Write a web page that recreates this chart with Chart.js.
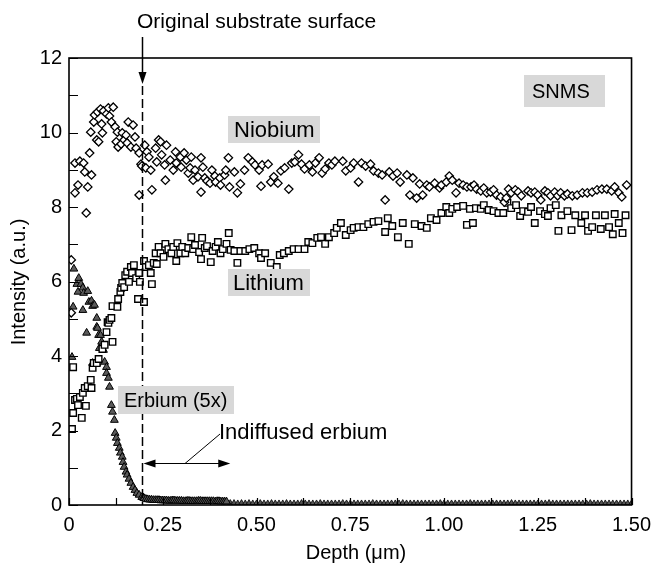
<!DOCTYPE html>
<html>
<head>
<meta charset="utf-8">
<script src="https://cdn.jsdelivr.net/npm/chart.js@4.4.0/dist/chart.umd.min.js"></script>
<style>
  html, body { margin: 0; padding: 0; background: #fff; }
  canvas { display: block; }
</style>
</head>
<body>
<canvas id="chart" width="659" height="563"></canvas>
<script>
const FONT = '"Liberation Sans", Arial, Helvetica, sans-serif';

// tick values
const xTickValues = [0, 0.125, 0.25, 0.375, 0.5, 0.625, 0.75, 0.875, 1, 1.125, 1.25, 1.375, 1.5];
const yTickValues = [0, 1, 2, 3, 4, 5, 6, 7, 8, 9, 10, 11, 12];

// depth of the original substrate surface and end of the indiffused region (um)
const surfaceDepth = 0.195;
const indiffusedEnd = 0.43;

// Niobium [depth, intensity]
const niobium = [
  [0.006,6.58],[0.006,5.16],[0.016,8.38],[0.016,9.18],[0.024,8.59],[0.029,9.23],[0.039,9.18],[0.042,8.94],
  [0.046,7.84],[0.050,8.54],[0.055,9.45],[0.058,10.01],[0.060,8.86],[0.066,10.28],[0.068,10.47],[0.074,9.80],
  [0.076,10.55],[0.079,9.75],[0.084,10.63],[0.087,10.23],[0.089,9.99],[0.092,10.58],[0.100,10.50],[0.105,10.66],
  [0.108,10.44],[0.113,10.28],[0.118,10.68],[0.123,10.15],[0.126,9.75],[0.129,10.01],[0.131,9.61],[0.139,9.69],
  [0.142,9.99],[0.147,9.80],[0.152,9.93],[0.155,9.72],[0.158,10.28],[0.165,9.61],[0.171,10.20],[0.176,9.88],
  [0.179,9.58],[0.187,9.45],[0.187,8.32],[0.192,9.15],[0.194,9.10],[0.202,9.66],[0.205,9.05],[0.208,9.48],
  [0.213,9.34],[0.218,8.99],[0.221,8.46],[0.231,9.58],[0.234,9.21],[0.239,9.80],[0.244,9.75],[0.247,9.40],
  [0.255,9.13],[0.257,8.72],[0.260,9.66],[0.270,9.26],[0.278,8.99],[0.284,9.48],[0.286,9.18],[0.297,9.34],
  [0.299,9.07],[0.307,9.45],[0.313,9.26],[0.318,8.91],[0.323,9.05],[0.326,9.34],[0.331,8.72],[0.336,8.99],
  [0.344,8.81],[0.352,9.32],[0.352,8.40],[0.357,9.07],[0.362,8.78],[0.368,8.70],[0.376,8.64],[0.381,8.99],
  [0.389,8.83],[0.391,8.67],[0.402,8.78],[0.404,8.59],[0.415,8.86],[0.418,8.99],[0.425,9.32],[0.428,8.54],
  [0.441,8.94],[0.449,8.38],[0.457,8.62],[0.468,8.99],[0.478,9.32],[0.489,9.21],[0.496,9.13],[0.507,8.99],
  [0.512,8.56],[0.515,9.13],[0.531,9.15],[0.538,8.67],[0.546,8.81],[0.557,8.64],[0.565,8.97],[0.575,9.05],
  [0.586,8.48],[0.594,9.18],[0.602,9.21],[0.612,9.40],[0.620,9.15],[0.628,9.02],[0.641,9.13],[0.649,8.94],
  [0.657,9.18],[0.667,9.32],[0.675,8.91],[0.683,9.02],[0.693,9.18],[0.701,9.13],[0.709,9.23],[0.730,9.23],
  [0.738,8.97],[0.751,9.05],[0.759,9.18],[0.772,8.67],[0.780,9.18],[0.791,9.10],[0.804,9.15],[0.812,8.97],
  [0.825,8.91],[0.835,8.86],[0.843,8.19],[0.854,8.94],[0.864,8.83],[0.875,8.91],[0.883,8.67],[0.901,8.86],
  [0.909,8.32],[0.917,8.78],[0.927,8.24],[0.935,8.62],[0.943,8.32],[0.954,8.59],[0.961,8.54],[0.975,8.64],
  [0.988,8.51],[0.993,8.59],[1.006,8.67],[1.014,8.83],[1.022,8.72],[1.032,8.38],[1.040,8.64],[1.051,8.59],
  [1.061,8.54],[1.072,8.54],[1.080,8.59],[1.087,8.48],[1.098,8.43],[1.106,8.51],[1.114,8.38],[1.124,8.40],
  [1.132,8.46],[1.140,8.32],[1.151,8.27],[1.161,8.13],[1.166,8.24],[1.172,8.48],[1.179,8.38],[1.190,8.46],
  [1.198,8.40],[1.206,8.30],[1.224,8.43],[1.232,8.38],[1.242,8.40],[1.250,8.32],[1.258,8.19],[1.269,8.43],
  [1.277,8.38],[1.284,8.30],[1.295,8.40],[1.303,8.30],[1.311,8.38],[1.321,8.30],[1.329,8.35],[1.342,8.30],
  [1.355,8.32],[1.369,8.38],[1.382,8.38],[1.395,8.40],[1.408,8.46],[1.421,8.48],[1.434,8.48],[1.447,8.43],
  [1.455,8.54],[1.466,8.38],[1.474,8.27],[1.487,8.59]
];

// Lithium [depth, intensity]
const lithium = [
  [0.008,2.04],[0.011,3.70],[0.011,2.47],[0.016,2.82],[0.021,2.85],[0.024,2.68],[0.029,2.90],[0.034,2.34],
  [0.037,3.01],[0.042,3.14],[0.045,2.66],[0.050,3.19],[0.058,3.36],[0.060,3.14],[0.063,3.68],[0.066,3.81],
  [0.074,3.81],[0.079,3.92],[0.089,4.19],[0.095,4.30],[0.100,4.64],[0.103,4.91],[0.105,4.89],[0.108,4.97],
  [0.113,5.02],[0.116,4.38],[0.116,5.34],[0.129,5.32],[0.131,5.53],[0.137,5.72],[0.139,5.83],[0.142,5.96],
  [0.147,5.85],[0.150,6.17],[0.155,6.26],[0.160,5.99],[0.165,6.39],[0.168,6.23],[0.173,6.44],[0.179,6.09],
  [0.184,5.53],[0.187,6.23],[0.189,5.99],[0.200,5.45],[0.200,6.55],[0.205,6.39],[0.213,6.44],[0.218,6.23],
  [0.221,5.93],[0.226,6.50],[0.231,6.76],[0.234,6.47],[0.239,6.93],[0.244,6.76],[0.252,6.66],[0.257,7.01],
  [0.265,6.87],[0.273,6.76],[0.278,6.93],[0.286,6.55],[0.289,7.03],[0.297,6.76],[0.302,6.93],[0.310,6.76],
  [0.318,6.90],[0.326,7.19],[0.331,6.87],[0.336,6.98],[0.347,6.79],[0.352,6.60],[0.355,7.17],[0.362,6.90],
  [0.368,6.95],[0.378,6.52],[0.383,6.82],[0.391,6.93],[0.397,7.06],[0.404,6.76],[0.410,6.87],[0.420,7.01],
  [0.426,7.30],[0.431,6.85],[0.441,6.82],[0.449,6.50],[0.457,6.82],[0.470,6.82],[0.481,6.87],[0.494,6.90],
  [0.507,6.76],[0.512,6.63],[0.523,6.76],[0.538,6.50],[0.554,6.39],[0.562,6.71],[0.573,6.76],[0.586,6.82],
  [0.599,6.87],[0.612,6.87],[0.628,6.87],[0.638,7.06],[0.649,7.03],[0.662,7.17],[0.672,7.19],[0.683,7.01],
  [0.693,7.19],[0.707,7.30],[0.714,7.44],[0.725,7.57],[0.738,7.25],[0.751,7.38],[0.759,7.44],[0.772,7.46],
  [0.785,7.46],[0.798,7.54],[0.812,7.60],[0.825,7.62],[0.843,7.33],[0.850,7.70],[0.862,7.49],[0.877,7.19],
  [0.890,7.57],[0.906,7.01],[0.922,7.54],[0.940,7.49],[0.954,7.44],[0.965,7.70],[0.980,7.65],[0.993,7.84],
  [1.006,8.00],[1.014,7.84],[1.022,7.95],[1.035,8.00],[1.051,8.03],[1.061,7.52],[1.069,7.95],[1.077,7.57],
  [1.085,7.97],[1.098,7.95],[1.106,8.05],[1.119,7.92],[1.132,7.89],[1.145,7.84],[1.158,7.84],[1.169,8.11],
  [1.179,7.97],[1.192,8.05],[1.203,7.76],[1.211,7.89],[1.224,7.87],[1.232,8.00],[1.242,7.57],[1.256,7.89],
  [1.269,7.81],[1.277,7.76],[1.284,7.97],[1.298,8.05],[1.305,7.36],[1.313,7.78],[1.329,7.89],[1.340,7.38],
  [1.350,7.78],[1.366,7.57],[1.376,7.78],[1.384,7.36],[1.395,7.46],[1.405,7.78],[1.418,7.41],[1.429,7.78],
  [1.440,7.46],[1.450,7.27],[1.455,7.81],[1.466,7.57],[1.476,7.30],[1.484,7.78]
];

// Erbium (5x) near the surface [depth, intensity]
const erbium = [
  [0.008,3.97],[0.011,5.32],[0.013,6.34],[0.021,5.93],[0.024,5.72],[0.026,6.09],[0.032,5.93],[0.037,5.83],
  [0.037,5.23],[0.039,5.69],[0.047,4.62],[0.050,5.74],[0.053,5.45],[0.060,5.48],[0.063,5.34],[0.063,3.81],
  [0.068,5.37],[0.074,5.02],[0.074,4.78],[0.074,3.81],[0.076,4.75],[0.079,4.56],[0.081,4.21],[0.084,4.56],
  [0.087,4.38],[0.092,4.16],[0.095,3.84],[0.100,3.70],[0.100,3.54],[0.105,3.41],[0.108,3.17],[0.113,2.68],
  [0.116,2.50],[0.121,2.28],[0.123,1.93],[0.126,1.80],[0.129,1.66],[0.134,1.53],[0.137,1.40],[0.142,1.29],
  [0.144,1.15],[0.147,1.02],[0.152,0.89],[0.155,0.81],[0.160,0.70],[0.165,0.59],[0.171,0.48],[0.176,0.40],
  [0.181,0.32],[0.187,0.27],[0.194,0.21],[0.198,0.20]
];

// Erbium indiffused plateau
const erbiumPlateauX = [0.20,0.205,0.21,0.215,0.22,0.225,0.23,0.235,0.24,0.245,0.25,0.255,0.26,0.265,0.27,0.275,
  0.28,0.285,0.29,0.295,0.30,0.305,0.31,0.315,0.32,0.325,0.33,0.335,0.34,0.345,0.35,0.355,0.36,0.365,0.37,0.375,
  0.38,0.385,0.39,0.395,0.40,0.405,0.41,0.415,0.42];
const erbiumPlateauY = [0.18,0.16,0.15,0.14,0.14,0.13,0.13,0.13,0.13,0.12,0.12,0.12,0.12,0.11,0.11,0.12,
  0.12,0.11,0.11,0.11,0.11,0.10,0.10,0.11,0.11,0.10,0.10,0.10,0.10,0.11,0.11,0.10,0.10,0.10,0.10,0.10,
  0.10,0.10,0.09,0.10,0.10,0.09,0.09,0.09,0.09];

// Erbium background beyond the indiffused region
const erbiumTailX = [0.43,0.44,0.45,0.46,0.47,0.48,0.49,0.50,0.51,0.52,0.53,0.54,0.55,0.56,0.57,0.58,0.59,0.60,
  0.61,0.62,0.63,0.64,0.65,0.66,0.67,0.68,0.69,0.70,0.71,0.72,0.73,0.74,0.75,0.76,0.77,0.78,0.79,0.80,
  0.81,0.82,0.83,0.84,0.85,0.86,0.87,0.88,0.89,0.90,0.91,0.92,0.93,0.94,0.95,0.96,0.97,0.98,0.99,1.00,
  1.01,1.02,1.03,1.04,1.05,1.06,1.07,1.08,1.09,1.10,1.11,1.12,1.13,1.14,1.15,1.16,1.17,1.18,1.19,1.20,
  1.21,1.22,1.23,1.24,1.25,1.26,1.27,1.28,1.29,1.30,1.31,1.32,1.33,1.34,1.35,1.36,1.37,1.38,1.39,1.40,
  1.41,1.42,1.43,1.44,1.45,1.46,1.47,1.48,1.49,1.50];
const erbiumTailY = [0.06,0.06,0.05,0.06,0.05,0.06,0.05,0.05,0.06,0.05,0.05,0.06,0.05,0.05,0.05,0.06,0.05,0.05,
  0.05,0.06,0.05,0.05,0.05,0.05,0.06,0.05,0.05,0.05,0.05,0.05,0.06,0.05,0.05,0.05,0.05,0.05,0.05,0.05,
  0.06,0.05,0.05,0.05,0.05,0.05,0.05,0.05,0.06,0.05,0.05,0.05,0.05,0.05,0.05,0.05,0.05,0.05,0.06,0.05,
  0.05,0.05,0.05,0.05,0.05,0.05,0.06,0.05,0.05,0.05,0.05,0.05,0.05,0.05,0.05,0.05,0.05,0.06,0.05,0.05,
  0.05,0.05,0.05,0.05,0.05,0.05,0.05,0.06,0.05,0.05,0.05,0.05,0.05,0.05,0.05,0.05,0.05,0.05,0.06,0.05,
  0.05,0.05,0.05,0.05,0.05,0.05,0.05,0.05,0.05,0.05];

function pairs(list) {
  return list.map(([x, y]) => ({ x, y }));
}

function zipXY(xs, ys) {
  return xs.map((x, i) => ({ x, y: ys[i] }));
}

function grayLabel(ctx, text, box, textX, size) {
  ctx.fillStyle = '#d8d8d8';
  ctx.fillRect(box[0], box[1], box[2] - box[0], box[3] - box[1]);
  ctx.fillStyle = '#000';
  ctx.font = `${size}px ${FONT}`;
  ctx.textAlign = 'left';
  ctx.textBaseline = 'middle';
  ctx.fillText(text, textX, (box[1] + box[3]) / 2 + 1);
}

function arrowHead(ctx, tipX, tipY, dir) {
  // dir: 'down' | 'left' | 'right'
  const len = 12, half = 4;
  ctx.beginPath();
  if (dir === 'down') {
    ctx.moveTo(tipX, tipY);
    ctx.lineTo(tipX - half, tipY - len);
    ctx.lineTo(tipX + half, tipY - len);
  } else if (dir === 'left') {
    ctx.moveTo(tipX, tipY);
    ctx.lineTo(tipX + len, tipY - half);
    ctx.lineTo(tipX + len, tipY + half);
  } else {
    ctx.moveTo(tipX, tipY);
    ctx.lineTo(tipX - len, tipY - half);
    ctx.lineTo(tipX - len, tipY + half);
  }
  ctx.closePath();
  ctx.fill();
}

const frameAndTicks = {
  id: 'frameAndTicks',
  afterDatasetsDraw(chart) {
    const { ctx, chartArea: a, scales: { x, y } } = chart;
    ctx.save();
    ctx.strokeStyle = '#000';
    ctx.lineWidth = 1.2;
    ctx.beginPath();
    yTickValues.forEach((v) => {
      const py = Math.round(y.getPixelForValue(v)) + 0.5;
      ctx.moveTo(a.left, py);
      ctx.lineTo(a.left + 9, py);
    });
    xTickValues.forEach((v) => {
      const px = Math.round(x.getPixelForValue(v)) + 0.5;
      ctx.moveTo(px, a.bottom);
      ctx.lineTo(px, a.bottom - 7);
    });
    ctx.stroke();
    ctx.lineWidth = 1.6;
    ctx.strokeRect(a.left, a.top, a.right - a.left, a.bottom - a.top);
    ctx.restore();
  }
};

const annotations = {
  id: 'annotations',
  afterDraw(chart) {
    const { ctx, chartArea: a, scales: { x, y } } = chart;
    const sx = Math.round(x.getPixelForValue(surfaceDepth)) + 0.5;
    const ex = x.getPixelForValue(indiffusedEnd);
    const ay = Math.round(y.getPixelForValue(1.13)) + 0.5;
    ctx.save();

    // surface marker
    ctx.fillStyle = '#000';
    ctx.textAlign = 'left';
    ctx.textBaseline = 'alphabetic';
    ctx.font = `21px ${FONT}`;
    ctx.fillText('Original substrate surface', 137, 28);
    ctx.strokeStyle = '#000';
    ctx.lineWidth = 1.5;
    ctx.beginPath();
    ctx.moveTo(sx, 37);
    ctx.lineTo(sx, 75);
    ctx.stroke();
    arrowHead(ctx, sx, 84, 'down');
    ctx.setLineDash([9, 4]);
    ctx.beginPath();
    ctx.moveTo(sx, 86);
    ctx.lineTo(sx, a.bottom);
    ctx.stroke();
    ctx.setLineDash([]);

    // indiffused range arrow
    ctx.lineWidth = 1.2;
    ctx.beginPath();
    ctx.moveTo(sx + 8, ay);
    ctx.lineTo(ex - 8, ay);
    ctx.stroke();
    arrowHead(ctx, sx + 1, ay, 'left');
    arrowHead(ctx, ex, ay, 'right');
    ctx.lineWidth = 1;
    ctx.beginPath();
    ctx.moveTo(220, 434);
    ctx.lineTo(185, ay);
    ctx.stroke();
    ctx.font = `22px ${FONT}`;
    ctx.fillText('Indiffused erbium', 219, 439);

    // series labels
    grayLabel(ctx, 'SNMS', [524, 75, 605, 107], 532, 20);
    grayLabel(ctx, 'Niobium', [228, 116, 320, 143], 234, 22);
    grayLabel(ctx, 'Lithium', [228, 269, 310, 296], 233, 22);
    grayLabel(ctx, 'Erbium (5x)', [118, 386, 234, 414], 124, 20);

    // axis titles
    ctx.fillStyle = '#000';
    ctx.textAlign = 'center';
    ctx.textBaseline = 'middle';
    ctx.font = `20px ${FONT}`;
    ctx.fillText('Depth (\u03bcm)', 356, 553);
    ctx.translate(19, 282);
    ctx.rotate(-Math.PI / 2);
    ctx.fillText('Intensity (a.u.)', 0, 0);
    ctx.restore();
  }
};

new Chart(document.getElementById('chart'), {
  type: 'scatter',
  data: {
    datasets: [
      {
        label: 'Niobium',
        data: pairs(niobium),
        pointStyle: 'rectRot',
        pointRadius: 4.2,
        backgroundColor: '#fff',
        borderColor: '#000',
        borderWidth: 1.3,
        order: 1
      },
      {
        label: 'Lithium',
        data: pairs(lithium),
        pointStyle: 'rect',
        pointRadius: 4.6,
        backgroundColor: '#fff',
        borderColor: '#000',
        borderWidth: 1.4,
        order: 2
      },
      {
        label: 'Erbium (5x)',
        data: pairs(erbium).concat(zipXY(erbiumPlateauX, erbiumPlateauY)),
        pointStyle: 'triangle',
        pointRadius: 4.5,
        backgroundColor: '#5a5a5a',
        borderColor: '#000',
        borderWidth: 1,
        order: 3
      },
      {
        label: 'Erbium tail',
        data: zipXY(erbiumTailX, erbiumTailY),
        pointStyle: 'triangle',
        pointRadius: 3.2,
        backgroundColor: '#555',
        borderColor: '#000',
        borderWidth: 0.8,
        order: 4
      }
    ]
  },
  options: {
    responsive: false,
    animation: false,
    devicePixelRatio: 1,
    layout: { padding: { left: 0, right: 22, top: 58, bottom: 0 } },
    plugins: { legend: { display: false }, tooltip: { enabled: false } },
    scales: {
      x: {
        type: 'linear',
        min: 0,
        max: 1.5,
        grid: { display: false, drawTicks: false },
        border: { display: false },
        ticks: {
          stepSize: 0.25,
          color: '#000',
          font: { family: FONT, size: 20 },
          padding: 8,
          maxRotation: 0,
          autoSkip: false,
          callback: (v) => (v === 0 ? '0' : Number(v).toFixed(2))
        },
        afterFit: (s) => { s.height = 58; }
      },
      y: {
        type: 'linear',
        min: 0,
        max: 12,
        grid: { display: false, drawTicks: false },
        border: { display: false },
        ticks: {
          stepSize: 2,
          color: '#000',
          font: { family: FONT, size: 20 },
          padding: 7
        },
        afterFit: (s) => { s.width = 69; }
      }
    }
  },
  plugins: [frameAndTicks, annotations]
});
</script>
</body>
</html>
